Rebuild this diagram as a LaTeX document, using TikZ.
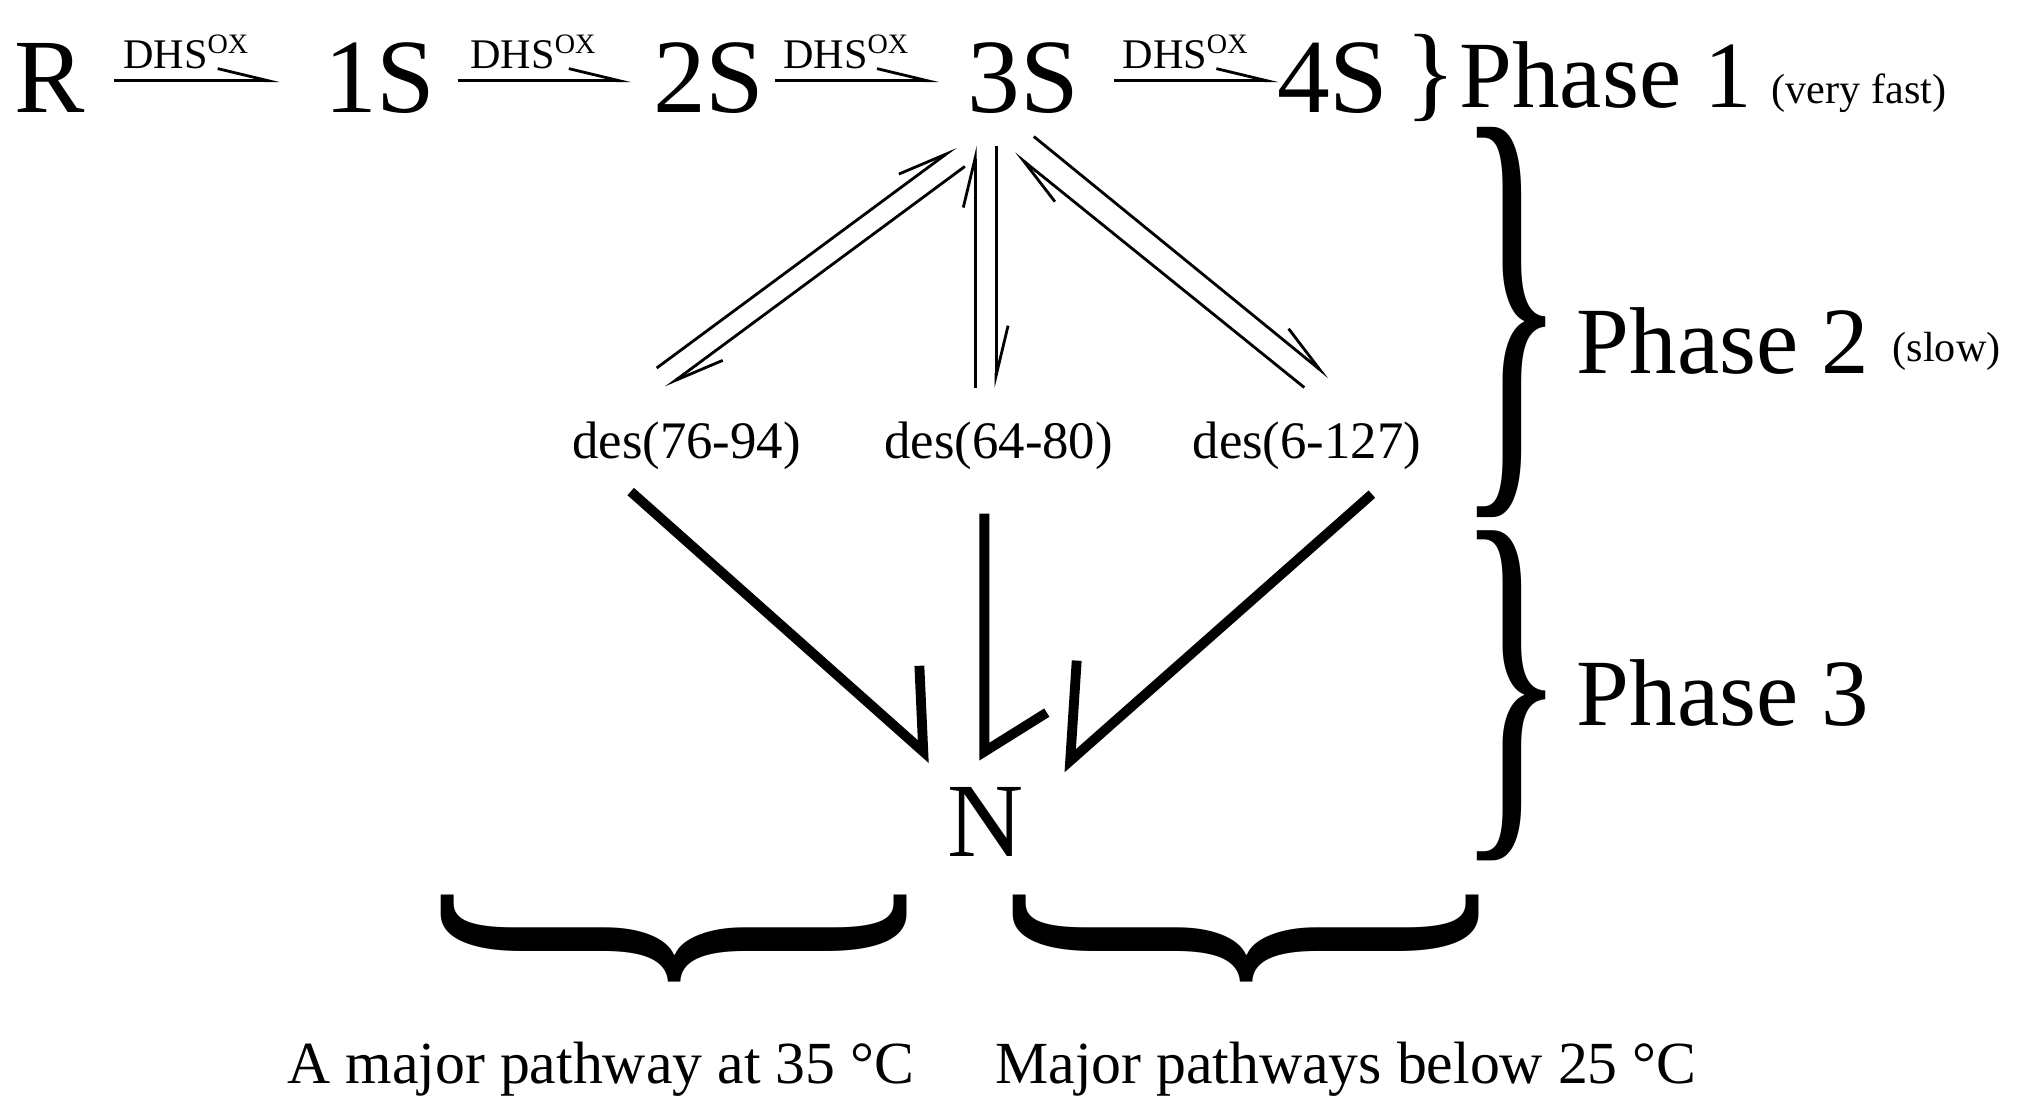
\documentclass[tikz,border=0pt]{standalone}
\usepackage{fontspec}
\setmainfont{Liberation Serif}
\usepackage{graphicx}
\usetikzlibrary{arrows.meta}
\begin{document}
\begin{tikzpicture}[x=0.013cm,y=-0.013cm,
  big/.style={font=\fontsize{30}{32}\selectfont,inner sep=0},
  ph/.style={font=\fontsize{27}{30}\selectfont,inner sep=0,anchor=west},
  sm/.style={font=\fontsize{12}{14}\selectfont,inner sep=0,anchor=west},
  des/.style={font=\fontsize{15}{17}\selectfont,inner sep=0},
  lab/.style={font=\fontsize{12}{14}\selectfont,inner sep=0},
  bot/.style={font=\fontsize{17}{20}\selectfont,inner sep=0},
  harp/.style={line width=0.8pt,-{Straight Barb[left,length=5mm,width=2.4mm]}},
  thk/.style={line width=2.8pt,line cap=butt,line join=miter}]
\useasboundingbox (0,0) rectangle (1568,856);
\node[big] (R) at (38,60) {R};
\node[big] (S1) at (292,60) {1S};
\node[big] (S2) at (545,60) {2S};
\node[big] (S3) at (787,60) {3S};
\node[big] (S4) at (1025,60) {4S};
\node[big] (br1) at (1100,60) {\}};
\node[ph] (p1) at (1122,58) {Phase 1};
\node[sm] (vf) at (1362,72) {(very fast)};
\node[ph] (p2) at (1212,262) {Phase 2};
\node[sm] (sl) at (1455,270) {(slow)};
\node[ph] (p3) at (1212,533) {Phase 3};
\node[big] (N) at (758,632) {N};
\node[des] (d1) at (528,343) {des(76-94)};
\node[des] (d2) at (768,343) {des(64-80)};
\node[des] (d3) at (1005,343) {des(6-127)};
\node[bot] (t1) at (462,822) {A major pathway at 35 °C};
\node[bot] (t2) at (1035,822) {Major pathways below 25 °C};
% braces
\node[inner sep=0] (b2) at (1162,248) {\resizebox*{1.1cm}{3.9cm}{\}}};
\node[inner sep=0] (b3) at (1162,535) {\resizebox*{1.1cm}{3.3cm}{\}}};
\node[inner sep=0] (b4) at (518,722) {\resizebox*{4.65cm}{1.4cm}{\rotatebox{-90}{\}}}};
\node[inner sep=0] (b5) at (958,722) {\resizebox*{4.65cm}{1.4cm}{\rotatebox{-90}{\}}}};
% top arrows
\foreach \a/\b/\y in {88/215/R,352/485/S1,596/722/S2,857/983/S3}{
  \coordinate (s\y) at (\a,62); \coordinate (e\y) at (\b,62);
  \draw[harp] (s\y) -- (e\y);
  \node[lab] at ({(\a+\b)/2-8},40) {DHS\textsuperscript{OX}};
}
% equilibria
\coordinate (a1) at (505,283); \coordinate (a2) at (735,113);
\coordinate (a3) at (742,128); \coordinate (a4) at (512,298);
\draw[harp] (a1) -- (a2); \draw[harp] (a3) -- (a4);
\coordinate (m1) at (750,298); \coordinate (m2) at (750,112);
\coordinate (m3) at (766,112); \coordinate (m4) at (766,298);
\draw[harp] (m1) -- (m2); \draw[harp] (m3) -- (m4);
\coordinate (r1) at (1003,298); \coordinate (r2) at (780,118);
\coordinate (r3) at (795,105); \coordinate (r4) at (1022,290);
\draw[harp] (r1) -- (r2); \draw[harp] (r3) -- (r4);
% to N
\coordinate (n1) at (485,378); \coordinate (n1e) at (710,578); \coordinate (n1b) at (707,512);
\coordinate (n2) at (757,395); \coordinate (n2e) at (757,578); \coordinate (n2b) at (805,548);
\coordinate (n3) at (1055,380); \coordinate (n3e) at (823,585); \coordinate (n3b) at (828,508);
\draw[thk] (n1) -- (n1e) -- (n1b);
\draw[thk] (n2) -- (n2e) -- (n2b);
\draw[thk] (n3) -- (n3e) -- (n3b);
\end{tikzpicture}
\end{document}
